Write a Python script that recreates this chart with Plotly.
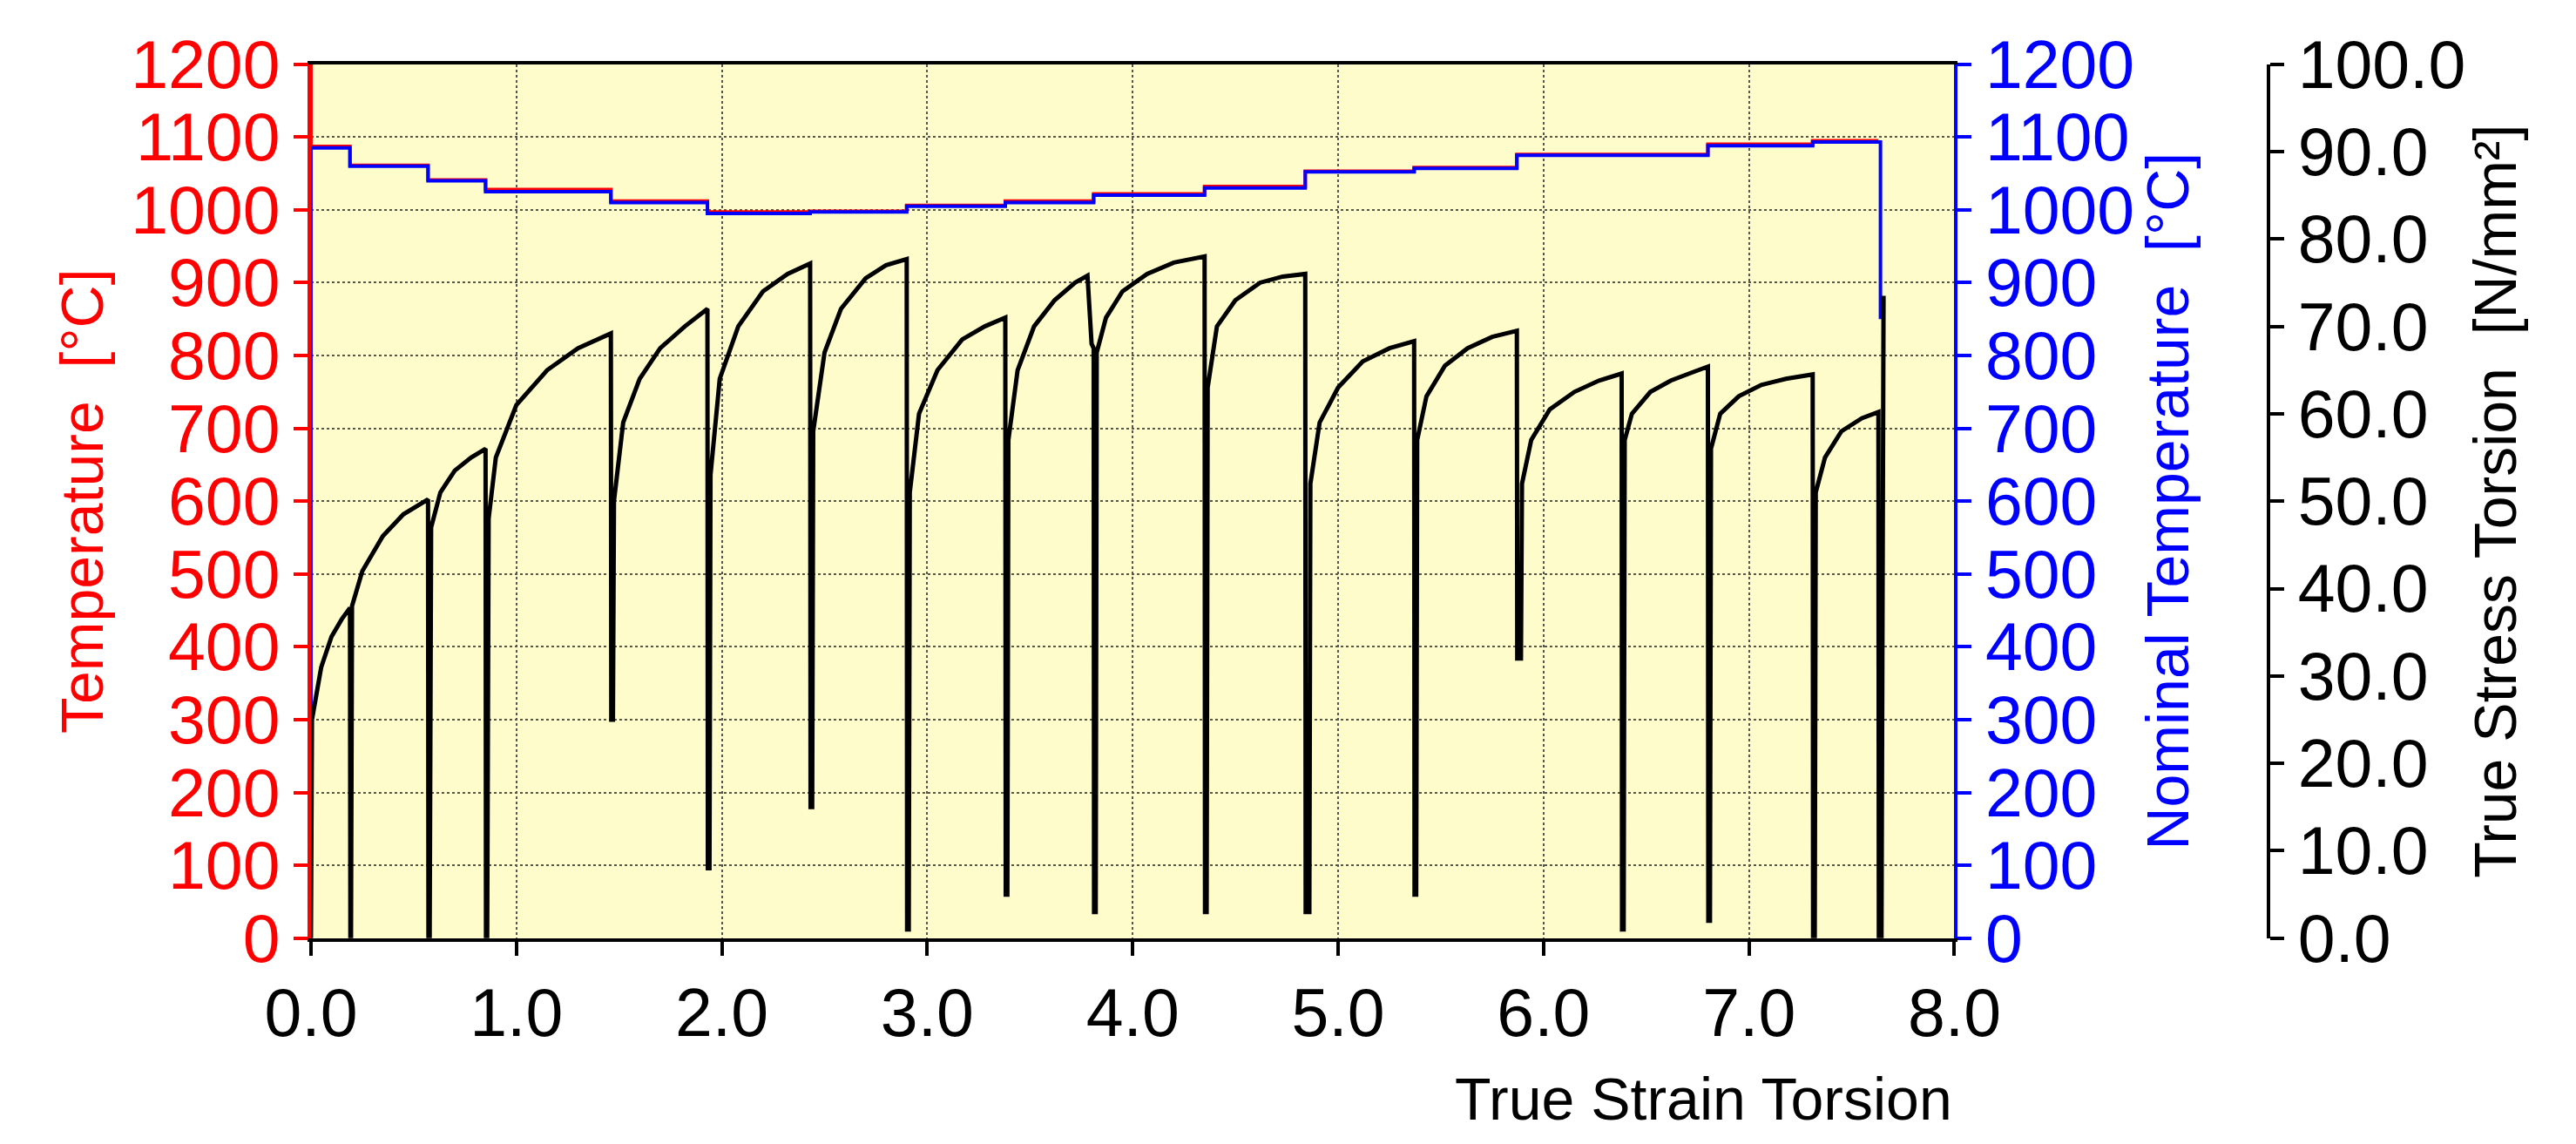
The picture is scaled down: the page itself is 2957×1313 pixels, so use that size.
import plotly.graph_objects as go

# stress curve (N/mm²) vs true strain
strain = [0.0, 0.005, 0.05, 0.10, 0.15, 0.19, 0.192,
          0.195, 0.20, 0.25, 0.35, 0.45, 0.57, 0.572,
          0.578, 0.585, 0.63, 0.70, 0.78, 0.85, 0.852,
          0.858, 0.865, 0.90, 1.00, 1.15, 1.30, 1.46, 1.462,
          1.47, 1.475, 1.52, 1.60, 1.70, 1.82, 1.93, 1.932,
          1.94, 1.945, 1.99, 2.08, 2.20, 2.32, 2.43, 2.432,
          2.44, 2.445, 2.50, 2.58, 2.70, 2.80, 2.90, 2.902,
          2.91, 2.915, 2.96, 3.05, 3.17, 3.28, 3.38, 3.382,
          3.39, 3.395, 3.44, 3.52, 3.62, 3.72, 3.78, 3.80, 3.81, 3.812,
          3.82, 3.825, 3.87, 3.95, 4.07, 4.20, 4.35, 4.352,
          4.36, 4.365, 4.41, 4.50, 4.62, 4.73, 4.84, 4.842,
          4.86, 4.865, 4.91, 5.00, 5.12, 5.25, 5.37, 5.372,
          5.38, 5.385, 5.43, 5.52, 5.63, 5.75, 5.87, 5.872,
          5.89, 5.895, 5.94, 6.03, 6.15, 6.27, 6.38, 6.382,
          6.39, 6.395, 6.43, 6.52, 6.62, 6.72, 6.80, 6.802,
          6.81, 6.815, 6.86, 6.95, 7.06, 7.18, 7.31, 7.312,
          7.32, 7.325, 7.37, 7.45, 7.55, 7.63, 7.632, 7.645, 7.655]
stress = [0, 25, 31, 34.5, 36.5, 37.8, 0,
          0, 38, 42, 46, 48.5, 50.2, 0,
          0, 47, 51, 53.5, 55, 56, 0,
          0, 48, 55, 61, 65, 67.5, 69.2, 25,
          25, 50, 59, 64, 67.5, 70, 72, 8,
          8, 53, 64, 70, 74, 76, 77.2, 15,
          15, 58, 67, 72, 75.5, 77, 77.7, 1,
          1, 51, 60, 65, 68.5, 70, 71, 5,
          5, 57, 65, 70, 73, 75, 75.8, 68, 67.5, 3,
          3, 67, 71, 74, 76, 77.3, 78, 3,
          3, 63, 70, 73, 75, 75.7, 76, 3,
          3, 52, 59, 63, 66, 67.5, 68.3, 5,
          5, 57, 62, 65.5, 67.5, 68.8, 69.5, 32,
          32, 52, 57, 60.5, 62.5, 63.8, 64.6, 1,
          1, 57, 60, 62.5, 63.8, 64.7, 65.4, 2,
          2, 56, 60, 62, 63.3, 64, 64.5, 0,
          0, 51, 55, 58, 59.5, 60.2, 0, 0, 73.5]

# nominal (blue) and measured (red) temperature steps
nom_strain = [0, 0, 0.19, 0.57, 0.85, 1.46, 1.93, 2.43, 2.90, 3.38, 3.81,
              4.35, 4.84, 5.37, 5.87, 6.80, 7.31, 7.63, 7.64]
nom_temp = [0, 1085, 1060, 1040, 1025, 1010, 995, 997, 1005, 1010, 1020,
            1030, 1052, 1057, 1075, 1088, 1093, 1093, 850]
meas_strain = [0, 0, 0.19, 0.57, 0.85, 1.46, 1.93, 2.43, 2.90, 3.38, 3.81,
               4.35, 4.84, 5.37, 5.87, 6.80, 7.31, 7.63]
meas_temp = [1200, 1087, 1061, 1041, 1028, 1012, 997, 998, 1006, 1012, 1022,
             1032, 1053, 1058, 1076, 1090, 1095, 1095]

temp_ticks = list(range(0, 1201, 100))
stress_ticks = list(range(0, 101, 10))
strain_ticks = list(range(0, 9))

FONT = "Liberation Sans"
TICK = 77
TITLE = 68
fig = go.Figure()
fig.add_trace(go.Scatter(x=meas_strain, y=meas_temp, mode="lines", line_shape="hv",
                         line=dict(color="red", width=4), yaxis="y"))
fig.add_trace(go.Scatter(x=nom_strain, y=nom_temp, mode="lines", line_shape="hv",
                         line=dict(color="blue", width=4), yaxis="y2"))
fig.add_trace(go.Scatter(x=strain, y=stress, mode="lines",
                         line=dict(color="black", width=5), yaxis="y3"))

fig.update_layout(
    width=2957, height=1313, showlegend=False,
    margin=dict(l=0, r=0, t=0, b=0),
    paper_bgcolor="white", plot_bgcolor="#fffccb",
    font=dict(family=FONT),
    xaxis=dict(domain=[0.118, 0.756], range=[0, 8], tickvals=strain_ticks,
               ticktext=[f"{v:.1f}" for v in strain_ticks],
               tickfont=dict(family=FONT, size=TICK, color="black"), automargin=False,
               showline=True, linecolor="black", linewidth=4, mirror=True,
               ticks="outside", ticklen=16, tickwidth=4, tickcolor="black",
               showgrid=True, gridcolor="#555555", griddash="dot", gridwidth=2,
               zeroline=False),
    yaxis=dict(domain=[0.186, 0.95], range=[0, 1200], tickvals=temp_ticks,
               tickfont=dict(family=FONT, size=TICK, color="red"), automargin=False,
               showline=True, linecolor="red", linewidth=4,
               ticks="outside", ticklen=16, tickwidth=4, tickcolor="red",
               showgrid=True, gridcolor="#555555", griddash="dot", gridwidth=2,
               zeroline=False,
               title=dict(text="Temperature  [°C]", font=dict(family=FONT, size=TITLE, color="red"),
                          standoff=10)),
    yaxis2=dict(overlaying="y", side="right", anchor="x", range=[0, 1200], tickvals=temp_ticks,
                tickfont=dict(family=FONT, size=TICK, color="blue"), automargin=False,
                showline=True, linecolor="blue", linewidth=4,
                ticks="outside", ticklen=16, tickwidth=4, tickcolor="blue",
                showgrid=False, zeroline=False,
                title=dict(text="Nominal Temperature  [°C]", font=dict(family=FONT, size=TITLE, color="blue"),
                           standoff=10)),
    yaxis3=dict(overlaying="y", side="right", anchor="free", position=0.878, range=[0, 100],
                tickvals=stress_ticks, ticktext=[f"{v:.1f}" for v in stress_ticks],
                tickfont=dict(family=FONT, size=TICK, color="black"), automargin=False,
                showline=True, linecolor="black", linewidth=4,
                ticks="outside", ticklen=16, tickwidth=4, tickcolor="black",
                showgrid=False, zeroline=False,
                title=dict(text="True Stress Torsion  [N/mm²]", font=dict(family=FONT, size=TITLE, color="black"),
                           standoff=10)),
)
fig.add_annotation(text="True Strain Torsion", xref="paper", yref="paper",
                   x=0.756, y=0.015, xanchor="right", yanchor="bottom", showarrow=False,
                   font=dict(family=FONT, size=TITLE, color="black"))

fig.write_html("out.html")
